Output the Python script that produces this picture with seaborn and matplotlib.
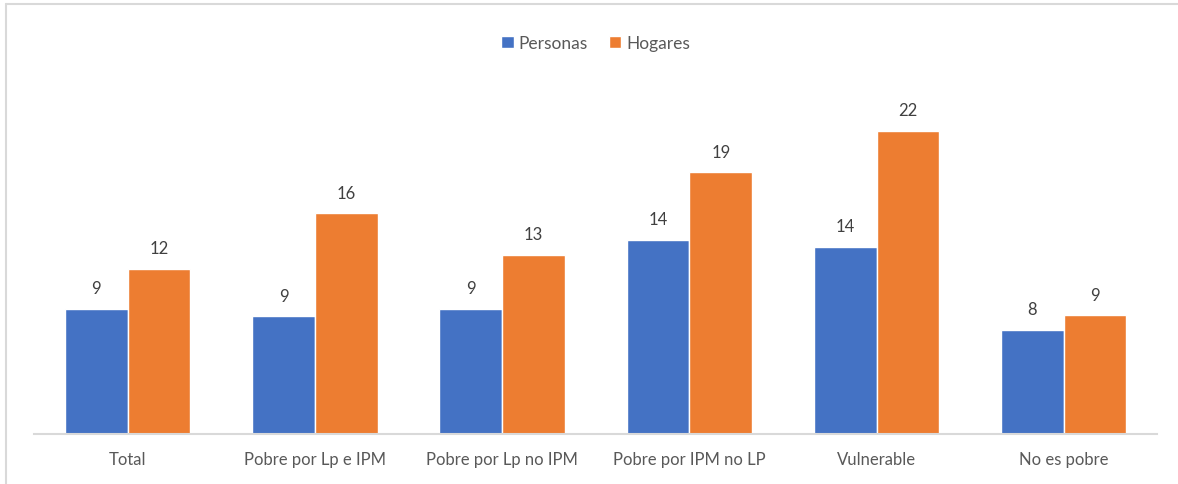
import pandas as pd
import matplotlib.pyplot as plt
import seaborn as sns
from matplotlib.lines import Line2D

categorias = ['Total', 'Pobre por Lp e IPM', 'Pobre por Lp no IPM',
              'Pobre por IPM no LP', 'Vulnerable', 'No es pobre']
personas = [9.1, 8.55, 9.1, 14.1, 13.6, 7.55]
hogares = [12.0, 16.0, 13.0, 19.0, 22.0, 8.6]
series = ['Personas', 'Hogares']
colores = ['#4472C4', '#ED7D31']

df = pd.DataFrame({
    'categoria': categorias * 2,
    'serie': [series[0]] * len(categorias) + [series[1]] * len(categorias),
    'valor': personas + hogares,
})

sns.set_style('white')
plt.rcParams['font.family'] = ['Lato', 'DejaVu Sans']

fig = plt.figure(figsize=(11.78, 4.85), dpi=100)
ax = fig.add_axes([0.029, 0.1031, 0.9535, 0.773])

sns.barplot(data=df, x='categoria', y='valor', hue='serie', palette=colores,
            width=0.67, saturation=1, ax=ax, errorbar=None)

for c in ax.containers:
    ax.bar_label(c, fmt='%.0f', padding=9, fontsize=12, color='#404040')

ax.set_ylim(0, 27.2)
ax.set_xlim(-0.5, len(categorias) - 0.5)
ax.set_xlabel('')
ax.set_ylabel('')
ax.set_yticks([])
ax.tick_params(axis='x', length=0, pad=12, labelsize=12, labelcolor='#595959')
for s in ['top', 'right', 'left']:
    ax.spines[s].set_visible(False)
ax.spines['bottom'].set_color('#D9D9D9')
ax.spines['bottom'].set_linewidth(1.5)

ax.legend(loc='upper center', bbox_to_anchor=(0.5, 1.105), ncol=2, frameon=False,
          handlelength=0.7, handleheight=0.7, handletextpad=0.3, columnspacing=1.2,
          fontsize=12.5, labelcolor='#595959')

# marco del gráfico
fig.add_artist(Line2D([6 / 1178, 1], [1 - 5 / 485, 1 - 5 / 485],
                      transform=fig.transFigure, color='#D9D9D9', lw=1.5))
fig.add_artist(Line2D([6 / 1178, 6 / 1178], [0, 1 - 5 / 485],
                      transform=fig.transFigure, color='#D9D9D9', lw=1.5))

fig.savefig('out.png', dpi=100)
